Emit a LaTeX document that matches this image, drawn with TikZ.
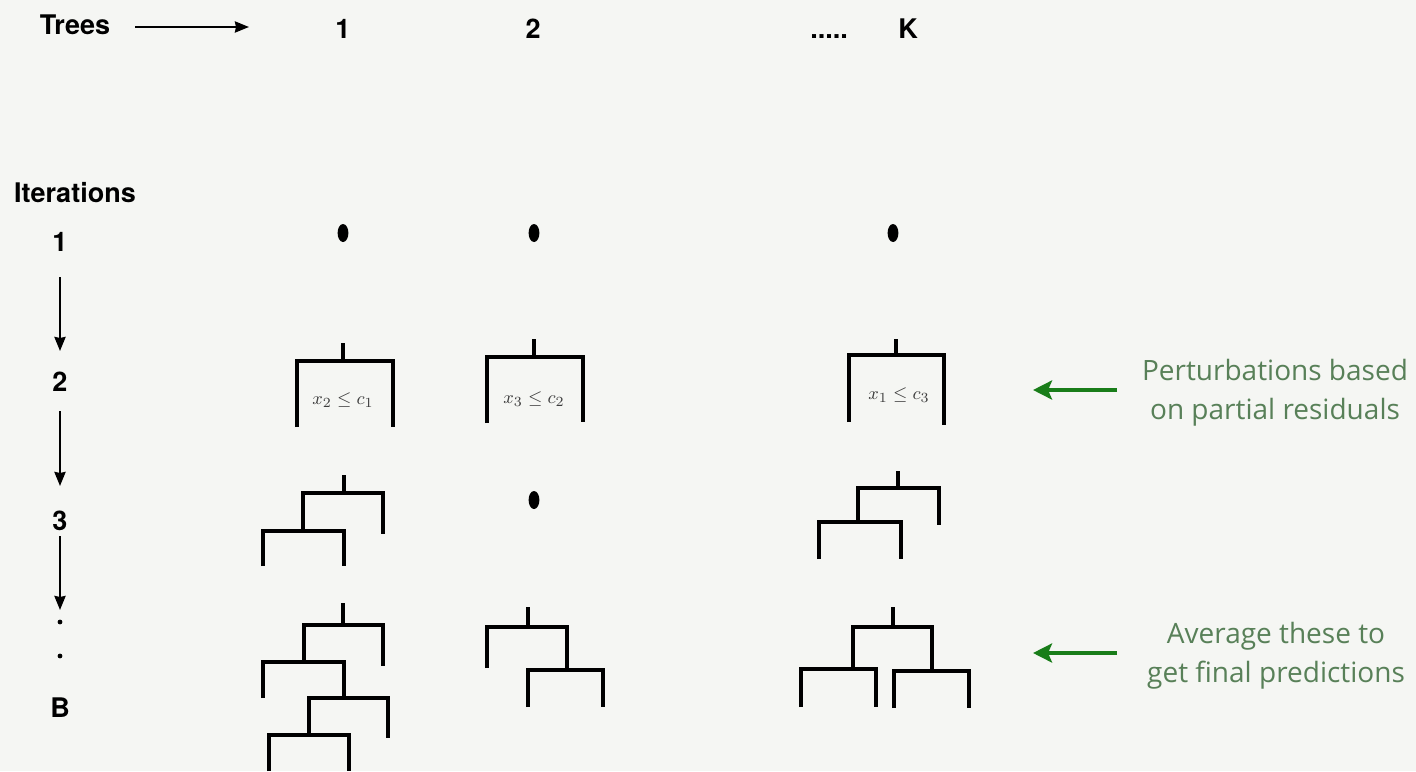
\documentclass[tikz,border=0pt]{standalone}
\usepackage{fontspec}
\newfontfamily\hv{TeX Gyre Heros}
\newfontfamily\os{Open Sans}
\usetikzlibrary{arrows.meta,shapes.geometric}
\definecolor{bg}{RGB}{245,246,243}
\definecolor{notegreen}{RGB}{88,128,88}
\definecolor{arrowgreen}{RGB}{25,125,25}
\definecolor{mathgray}{RGB}{60,60,60}
\tikzset{
  lbl/.style={font=\hv\bfseries\fontsize{13.5}{16}\selectfont, inner sep=0pt},
  note/.style={font=\os\fontsize{14}{19.5}\selectfont, text=notegreen, align=center, inner sep=0pt},
  cond/.style={font=\fontsize{9.5}{12}\selectfont, text=mathgray, inner sep=0pt},
  branch/.style={line width=1.6pt, line join=miter, line cap=butt},
  leafdot/.style={fill=black, ellipse, inner sep=0pt, minimum width=5.4pt, minimum height=9pt},
  itdot/.style={fill=black, circle, inner sep=0pt, minimum size=2.4pt},
  blackarrow/.style={line width=1.25pt, -{Stealth[length=7pt,width=5.5pt,inset=0.5pt]}},
  greenarrow/.style={line width=2.2pt, draw=arrowgreen, -{Stealth[length=9.5pt,width=9.5pt,inset=2pt]}},
}
\begin{document}
\begin{tikzpicture}[x=0.5pt,y=-0.5pt]
\fill[bg] (0,0) rectangle (1416,771);
\useasboundingbox (0,0) rectangle (1416,771);

% header
\node[lbl, anchor=base] (trees) at (75,34) {Trees};
\node[lbl, anchor=base] (t1) at (343,39) {1};
\node[lbl, anchor=base] (t2) at (533,39) {2};
\node[lbl, anchor=base] (tdots) at (829,39) {.....};
\node[lbl, anchor=base] (tK) at (908,39) {K};
\coordinate (ta1) at (135,27);
\coordinate (ta2) at (249,27);
\draw[blackarrow] (ta1) -- (ta2);

% iterations column
\node[lbl] (iters) at (75,193) {Iterations};
\node[lbl] (i1) at (60,242) {1};
\node[lbl] (i2) at (60,382) {2};
\node[lbl] (i3) at (60,521) {3};
\node[itdot] (d1) at (60,622) {};
\node[itdot] (d2) at (60,656) {};
\node[lbl] (iB) at (60,708) {B};
\coordinate (a1s) at (60,277);
\coordinate (a1e) at (60,351);
\coordinate (a2s) at (60,411);
\coordinate (a2e) at (60,486);
\coordinate (a3s) at (60,536);
\coordinate (a3e) at (60,610);
\draw[blackarrow] (a1s) -- (a1e);
\draw[blackarrow] (a2s) -- (a2e);
\draw[blackarrow] (a3s) -- (a3e);

% iteration 1: single leaves
\node[leafdot] (r1c1) at (343,233) {};
\node[leafdot] (r1c2) at (534,233) {};
\node[leafdot] (r1cK) at (893,233) {};

% iteration 2: single splits
\draw[branch] (343,343) -- (343,361);
\draw[branch] (297,427) -- (297,361) -- (393,361) -- (393,427);
\node[cond] (s1) at (343,400) {$x_2 \le c_1$};
\draw[branch] (534,339) -- (534,357);
\draw[branch] (487,423) -- (487,357) -- (583,357) -- (583,422);
\node[cond] (s2) at (534,399) {$x_3 \le c_2$};
\draw[branch] (896,339) -- (896,355);
\draw[branch] (849,422) -- (849,355) -- (944,355) -- (944,425);
\node[cond] (s3) at (899,395) {$x_1 \le c_3$};

% iteration 3
\draw[branch] (344,475) -- (344,493);
\draw[branch] (303,531) -- (303,493) -- (383,493) -- (383,534);
\draw[branch] (263,566) -- (263,531) -- (344,531) -- (344,566);
\node[leafdot] (r3c2) at (534,500) {};
\draw[branch] (898,471) -- (898,488);
\draw[branch] (858,522) -- (858,488) -- (939,488) -- (939,525);
\draw[branch] (819,559) -- (819,522) -- (901,522) -- (901,559);

% iteration B
\draw[branch] (343,603) -- (343,625);
\draw[branch] (304,662) -- (304,625) -- (383,625) -- (383,666);
\draw[branch] (263,698) -- (263,662) -- (344,662) -- (344,698);
\draw[branch] (309,735) -- (309,698) -- (388,698) -- (388,738);
\draw[branch] (269,771) -- (269,735) -- (349,735) -- (349,771);

\draw[branch] (528,607) -- (528,627);
\draw[branch] (487,668) -- (487,627) -- (567,627) -- (567,670);
\draw[branch] (528,707) -- (528,670) -- (603,670) -- (603,707);

\draw[branch] (893,607) -- (893,627);
\draw[branch] (853,669) -- (853,627) -- (932,627) -- (932,671);
\draw[branch] (801,707) -- (801,669) -- (876,669) -- (876,707);
\draw[branch] (894,708) -- (894,671) -- (969,671) -- (969,708);

% notes
\node[note] (n1) at (1275,393) {Perturbations based\\on partial residuals};
\node[note] (n2) at (1276,656) {Average these to\\get final predictions};
\coordinate (g1s) at (1117,390);
\coordinate (g1e) at (1033,390);
\coordinate (g2s) at (1117,653);
\coordinate (g2e) at (1033,653);
\draw[greenarrow] (g1s) -- (g1e);
\draw[greenarrow] (g2s) -- (g2e);
\end{tikzpicture}
\end{document}
